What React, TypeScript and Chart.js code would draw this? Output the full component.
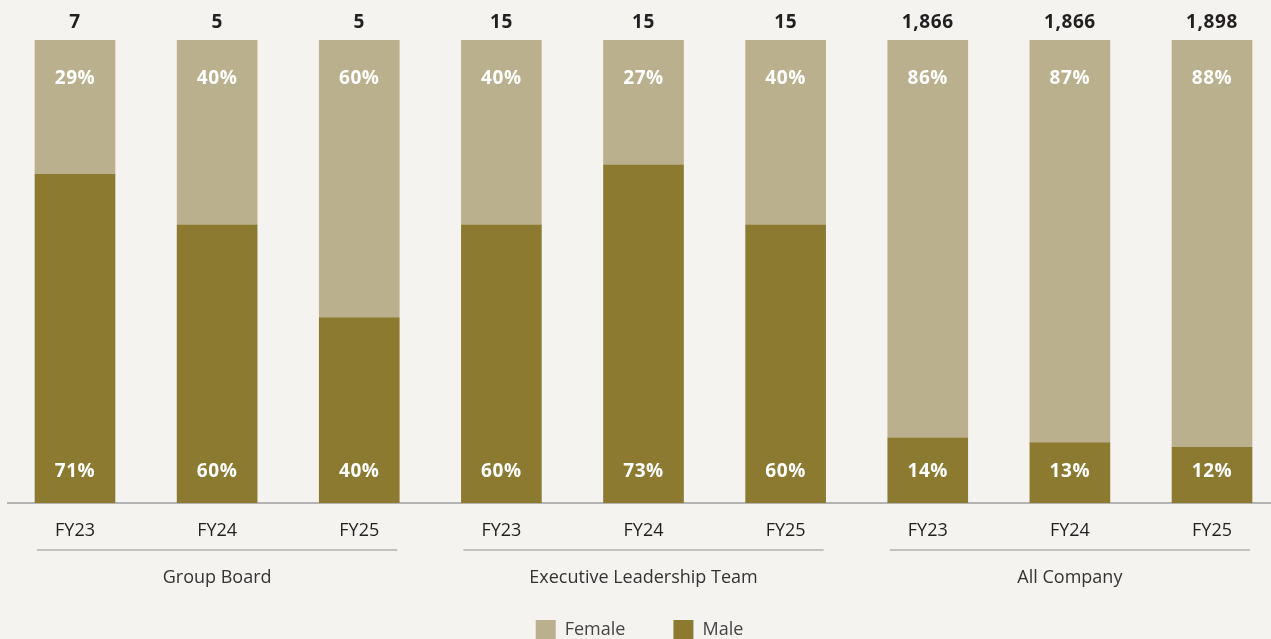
import React, { useEffect, useRef } from "react";
import { Chart, registerables } from "chart.js";

Chart.register(...registerables);

const tickLabels = ["FY23", "FY24", "FY25", "FY23", "FY24", "FY25", "FY23", "FY24", "FY25"];
const groupNames = ["Group Board", "Executive Leadership Team", "All Company"];
const groupRanges = [[0, 2], [3, 5], [6, 8]];
const maleValues = [71, 60, 40, 60, 73, 60, 14, 13, 12];
const femaleValues = [29, 40, 60, 40, 27, 40, 86, 87, 88];
const totals = [7, 5, 5, 15, 15, 15, 1866, 1866, 1898];

const MALE_COLOR = "#8b7a30";
const FEMALE_COLOR = "#bbb08d";
const BG = "#f4f3ef";
const FONT = "'Open Sans', sans-serif";

const labelPlugin = {
  id: "labelPlugin",
  afterDatasetsDraw(chart: any) {
    const ctx = chart.ctx;
    const maleMeta = chart.getDatasetMeta(0);
    const femaleMeta = chart.getDatasetMeta(1);
    ctx.save();
    ctx.textAlign = "center";
    ctx.textBaseline = "middle";
    ctx.font = `700 19px ${FONT}`;
    (ctx as any).letterSpacing = "0.6px";
    maleMeta.data.forEach((el: any, i: number) => {
      ctx.fillStyle = "#ffffff";
      ctx.fillText(`${maleValues[i]}%`, el.x, el.base - 31);
    });
    femaleMeta.data.forEach((el: any, i: number) => {
      ctx.fillStyle = "#ffffff";
      ctx.fillText(`${femaleValues[i]}%`, el.x, el.y + 39);
      ctx.fillStyle = "#231f20";
      ctx.fillText(totals[i].toLocaleString("en-US"), el.x, el.y - 17);
    });
    ctx.restore();
  },
  afterDraw(chart: any) {
    const ctx = chart.ctx;
    const xs = chart.scales.x;
    ctx.save();
    groupRanges.forEach((r, g) => {
      const x0 = xs.getPixelForValue(r[0]) - 38;
      const x1 = xs.getPixelForValue(r[1]) + 38;
      ctx.strokeStyle = "#8f8f8f";
      ctx.lineWidth = 1.2;
      ctx.beginPath();
      ctx.moveTo(x0, 550);
      ctx.lineTo(x1, 550);
      ctx.stroke();
      ctx.fillStyle = "#333333";
      ctx.font = `400 18px ${FONT}`;
      ctx.textAlign = "center";
      ctx.textBaseline = "middle";
      ctx.fillText(groupNames[g], (x0 + x1) / 2, 578);
    });
    ctx.restore();
  },
};

export default function App() {
  const canvasRef = useRef<HTMLCanvasElement | null>(null);

  useEffect(() => {
    const canvas = canvasRef.current;
    if (!canvas) return;
    const chart = new Chart(canvas, {
      type: "bar",
      data: {
        datasets: [
          {
            label: "Male",
            data: maleValues.map((v, i) => ({ x: i, y: v })),
            backgroundColor: MALE_COLOR,
            barThickness: 80,
          },
          {
            label: "Female",
            data: femaleValues.map((v, i) => ({ x: i, y: v })),
            backgroundColor: FEMALE_COLOR,
            barThickness: 80,
          },
        ],
      },
      options: {
        responsive: false,
        animation: false,
        layout: { padding: { top: 40, left: 8, right: 0, bottom: 0 } },
        plugins: {
          legend: {
            display: true,
            position: "bottom",
            reverse: true,
            labels: {
              boxWidth: 20,
              boxHeight: 20,
              padding: 48,
              color: "#444444",
              font: { family: FONT, size: 18 },
            },
          },
          tooltip: { enabled: false },
        },
        scales: {
          x: {
            type: "linear",
            stacked: true,
            offset: false,
            min: -0.4714,
            max: 8.415,
            grid: { display: false, drawTicks: false, offset: false },
            border: { display: true, color: "#b3b3b3", width: 2 },
            afterBuildTicks: (scale: any) => {
              scale.ticks = tickLabels.map((_, i) => ({ value: i }));
            },
            afterFit: (scale: any) => {
              scale.height = 69;
            },
            ticks: {
              autoSkip: false,
              maxRotation: 0,
              padding: 17,
              color: "#231f20",
              font: { family: FONT, size: 18 },
              callback: (_v: any, i: number) => tickLabels[i],
            },
          },
          y: {
            stacked: true,
            display: false,
            min: 0,
            max: 100,
          },
        },
      },
      plugins: [labelPlugin],
    } as any);
    return () => chart.destroy();
  }, []);

  return (
    <div style={{ position: "fixed", left: 0, top: 0, width: 1271, height: 639, overflow: "hidden", background: BG }}>
      <canvas ref={canvasRef} width={1271} height={650} style={{ display: "block" }} />
    </div>
  );
}
